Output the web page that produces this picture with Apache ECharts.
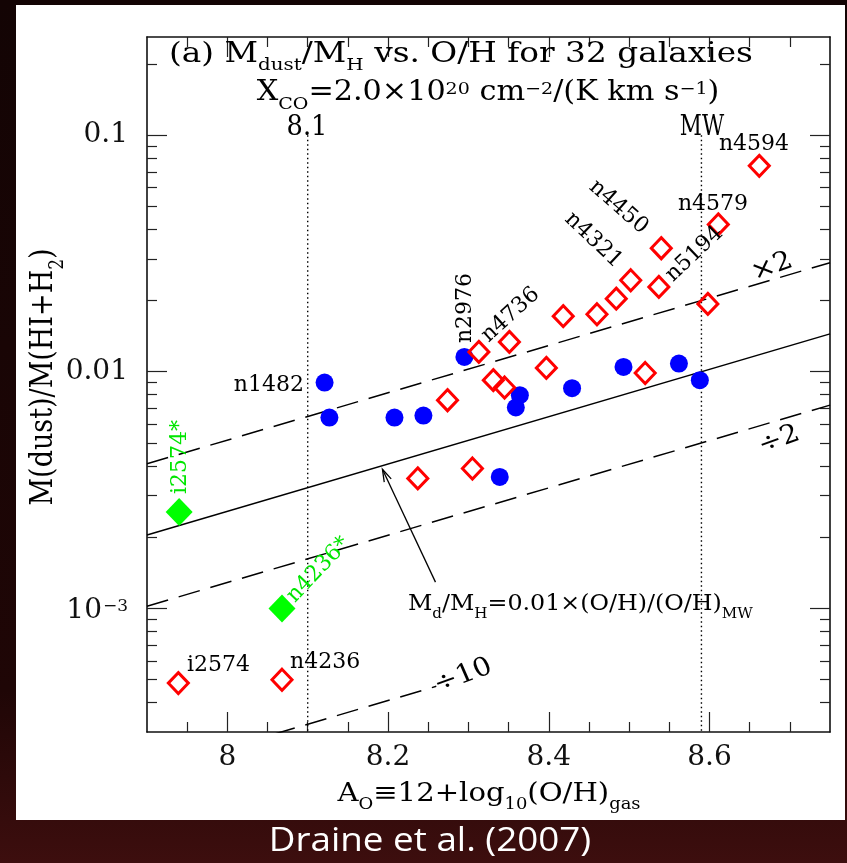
<!DOCTYPE html>
<html><head><meta charset="utf-8">
<script src="https://cdn.jsdelivr.net/npm/echarts@6/dist/echarts.min.js"></script>
<style>html,body{margin:0;padding:0;background:#1a0505;} #c{width:847px;height:863px;}</style>
</head><body><div id="c"></div>
<script>
// ---------------- data ----------------
// blue filled circles
const blueX = [8.121, 8.127, 8.208, 8.244, 8.295, 8.364, 8.359, 8.429, 8.493, 8.562, 8.588, 8.339];
const blueY = [0.00900, 0.00640, 0.00640, 0.00653, 0.01155, 0.00796, 0.00706, 0.00852, 0.01048, 0.01083, 0.00921, 0.00359];
// red open diamonds
const redX = [8.313, 8.351, 8.418, 8.460, 8.484, 8.502, 8.540, 8.537, 8.598, 8.662, 8.611, 8.274, 8.331, 8.345, 8.397, 8.520, 8.305, 8.237, 7.939, 8.068];
const redY = [0.01213, 0.01337, 0.01717, 0.01750, 0.02036, 0.02437, 0.03328, 0.02284, 0.01935, 0.0742, 0.04194, 0.00758, 0.00921, 0.00858, 0.01038, 0.00988, 0.00390, 0.00354, 0.000483, 0.000499];
// green filled diamonds (i2574*, n4236*)
const greenX = [7.940, 8.068];
const greenY = [0.002554, 0.000997];
// reference lines (end points)
const lineSolid  = [[7.90, 0.002042], [8.75, 0.014454]];
const lineTimes2 = [[7.90, 0.004083], [8.75, 0.028907]];
const lineDiv2   = [[7.90, 0.001021], [8.75, 0.007227]];
const lineDiv10  = [[7.90, 0.000204], [8.26, 0.000468]];
const dotted81   = [[8.10, 0.1], [8.10, 0.0003]];
const dottedMW   = [[8.59, 0.1], [8.59, 0.0003]];
const arrowFrom  = [8.259, 0.00129];
const arrowTo    = [8.193, 0.00387];
// axes
const X_MIN = 7.9, X_MAX = 8.75, Y_MIN = 0.0003, Y_MAX = 0.26;
const xTickVals = [8.0, 8.2, 8.4, 8.6];
const xTickLabels = ['8', '8.2', '8.4', '8.6'];
const xMinorVals = [7.95, 8.05, 8.1, 8.15, 8.25, 8.3, 8.35, 8.45, 8.5, 8.55, 8.65, 8.7];
const yTickVals = [0.001, 0.01, 0.1];
const yTickLabels = ['{m|10}{u|−3}', '0.01', '0.1'];
const yMinorVals = [0.0004, 0.0005, 0.0006, 0.0007, 0.0008, 0.0009,
  0.002, 0.003, 0.004, 0.005, 0.006, 0.007, 0.008, 0.009,
  0.02, 0.03, 0.04, 0.05, 0.06, 0.07, 0.08, 0.09, 0.2];

// ---------------- chart ----------------
const L = v => Math.log10(v);
const FAM = 'DejaVu Serif';
const SX = 1.0;
const chart = echarts.init(document.getElementById('c'), null, {renderer: 'canvas'});

const lineStyleAx = {color: '#111', width: 1.6};
const tickStyle = {color: '#222', width: 1.2};

function xFmt(v) {
  const i = xTickVals.findIndex(t => Math.abs(t - v) < 1e-6);
  return i >= 0 ? xTickLabels[i] : '';
}
function yFmt(v) {
  const i = yTickVals.findIndex(t => Math.abs(L(t) - v) < 1e-6);
  return i >= 0 ? yTickLabels[i] : '';
}
const labelFont = {fontFamily: FAM, fontSize: 28, color: '#111'};

function xAx(pos, ticks, len, withLabels, showLine) {
  return {
    type: 'value', min: X_MIN, max: X_MAX, position: pos,
    axisLine: {show: showLine, onZero: false, lineStyle: lineStyleAx},
    axisTick: {show: true, inside: true, length: len, customValues: ticks, lineStyle: tickStyle},
    axisLabel: withLabels ? Object.assign({show: true, customValues: xTickVals, formatter: xFmt, margin: 12}, labelFont) : {show: false},
    splitLine: {show: false}, minorTick: {show: false}
  };
}
function yAx(pos, ticks, len, withLabels, showLine) {
  return {
    type: 'value', min: L(Y_MIN), max: L(Y_MAX), position: pos,
    axisLine: {show: showLine, onZero: false, lineStyle: lineStyleAx},
    axisTick: {show: true, inside: true, length: len, customValues: ticks.map(L), lineStyle: tickStyle},
    axisLabel: withLabels ? Object.assign({
      show: true, customValues: yTickVals.map(L), formatter: yFmt, margin: 19,
      rich: {
        m: {fontFamily: FAM, fontSize: 28, lineHeight: 28, color: '#111', verticalAlign: 'top', padding: [2, 0, 0, 0]},
        u: {fontFamily: FAM, fontSize: 17, lineHeight: 17, color: '#111', verticalAlign: 'top', padding: [4, 0, 0, 1]}
      }
    }, labelFont) : {show: false},
    splitLine: {show: false}, minorTick: {show: false}
  };
}
const toXY = arr => arr.map(p => [p[0], L(p[1])]);
function refLine(pts, type, width) {
  return {type: 'line', data: toXY(pts), symbol: 'none', showSymbol: false, silent: true, z: 1,
    lineStyle: {color: '#000', width: width, type: type}, emphasis: {disabled: true}};
}

const option = {
  animation: false,
  backgroundColor: {type: 'linear', x: 0, y: 0, x2: 0, y2: 1, colorStops: [
    {offset: 0, color: '#130404'}, {offset: 0.8, color: '#1f0606'}, {offset: 1, color: '#3d0e0e'}]},
  grid: {left: 147, right: 17, top: 37, bottom: 131, containLabel: false, outerBoundsMode: 'none'},
  xAxis: [
    xAx('bottom', xTickVals, 20, true, true),
    xAx('bottom', xMinorVals, 10, false, false),
    xAx('top', xTickVals, 20, false, true),
    xAx('top', xMinorVals, 10, false, false)
  ],
  yAxis: [
    yAx('left', yTickVals, 20, true, true),
    yAx('left', yMinorVals, 10, false, false),
    yAx('right', yTickVals, 20, false, true),
    yAx('right', yMinorVals, 10, false, false)
  ],
  series: [
    refLine(lineSolid, 'solid', 1.5),
    refLine(lineTimes2, [22, 11], 1.5),
    refLine(lineDiv2, [22, 11], 1.5),
    refLine(lineDiv10, [22, 11], 1.5),
    refLine(dotted81, [1.5, 3], 1.4),
    refLine(dottedMW, [1.5, 3], 1.4),
    {type: 'scatter', name: 'blue', data: blueX.map((x, i) => [x, L(blueY[i])]), symbol: 'circle', symbolSize: 18,
      itemStyle: {color: '#0000ff', opacity: 1}, z: 5, silent: true},
    {type: 'scatter', name: 'red', data: redX.map((x, i) => [x, L(redY[i])]), symbol: 'diamond', symbolSize: [20, 21],
      itemStyle: {color: 'rgba(255,255,255,0)', borderColor: '#ff0000', borderWidth: 3, opacity: 1}, z: 6, silent: true},
    {type: 'scatter', name: 'green', data: greenX.map((x, i) => [x, L(greenY[i])]), symbol: 'diamond', symbolSize: [27, 28],
      itemStyle: {color: '#00ff00', opacity: 1}, z: 6, silent: true}
  ]
};
chart.setOption(option);

// ---------------- text annotations ----------------
function mkRich(F, color, fam) {
  const P = Math.round(F * 0.15), Fs = Math.round(F * 0.62);
  const b = {fontFamily: fam || FAM, fill: color, verticalAlign: 'top'};
  return {
    m: Object.assign({}, b, {fontSize: F, lineHeight: F, padding: [P, 0, 0, 0]}),
    s: Object.assign({}, b, {fontSize: Fs, lineHeight: Fs, padding: [Math.round(P + 0.62 * F), 0, 0, 0]}),
    u: Object.assign({}, b, {fontSize: Fs, lineHeight: Fs, padding: [Math.round(P + 0.06 * F), 0, 0, 0]})
  };
}
function T(text, gx, gy, F, o) {
  o = o || {};
  const P = Math.round(F * 0.15);
  const yOff = o.center ? -(P + 0.5 * F) : -(P + 0.846 * F);
  const phi = (o.rot || 0) * Math.PI / 180;
  const sx = o.sx || SX;
  const theta = Math.atan2(Math.sin(phi) * sx, Math.cos(phi));
  const color = o.color || '#000';
  return {type: 'group', x: gx, y: gy, scaleX: sx, children: [{
    type: 'text', z: 50, rotation: theta, silent: true,
    style: {text: text, rich: mkRich(F, color, o.family), x: 0, y: yOff, fill: color,
      fontFamily: o.family || FAM, fontSize: F,
      textAlign: o.align || 'center', textVerticalAlign: 'top'}
  }]};
}
const GREEN = '#00e600';
const texts = [
  T('{m|(a) M}{s|dust}{m|/M}{s|H}{m| vs. O/H for 32 galaxies}', 169, 64, 28, {align: 'left', sx: 1.17}),
  T('{m|X}{s|CO}{m|=2.0×10}{u|20}{m| cm}{u|−2}{m|/(K km s}{u|−1}{m|)}', 488, 102, 27, {sx: 1.12}),
  T('{m|8.1}', 307, 137, 27, {sx: 0.95}),
  T('{m|MW}', 702, 137, 27, {sx: 0.8}),
  T('{m|n4594}', 754, 152, 22),
  T('{m|n4579}', 713, 212, 22),
  T('{m|n1482}', 304, 393, 22, {align: 'right'}),
  T('{m|i2574}', 187, 673, 22, {align: 'left'}),
  T('{m|n4236}', 290, 670, 22, {align: 'left'}),
  T('{m|n4450}', 618.5, 207, 22, {center: true, rot: -41}),
  T('{m|n4321}', 593.5, 240, 22, {center: true, rot: -43.5}),
  T('{m|n5194}', 694.5, 254, 22, {center: true, rot: 43.4}),
  T('{m|n2976}', 465, 308, 22, {center: true, rot: 90}),
  T('{m|n4736}', 510.5, 315, 22, {center: true, rot: 42.3}),
  T('{m|i2574*}', 180, 457, 22, {center: true, rot: 90, color: GREEN}),
  T('{m|n4236*}', 318.5, 570, 22, {center: true, rot: 46.5, color: GREEN}),
  T('{m|×2}', 772, 267, 26, {center: true, rot: 20, sx: 1.1}),
  T('{m|÷2}', 779, 440, 26, {center: true, rot: 20, sx: 1.1}),
  T('{m|÷10}', 463, 676, 26, {center: true, rot: 20, sx: 1.1}),
  T('{m|M}{s|d}{m|/M}{s|H}{m|=0.01×(O/H)/(O/H)}{s|MW}', 408, 612, 22, {align: 'left', sx: 1.08}),
  T('{m|A}{s|O}{m|≡12+log}{s|10}{m|(O/H)}{s|gas}', 489, 803, 26, {sx: 1.12}),
  T('{m|M(dust)/M(HI+H}{s|2}{m|)}', 44, 377, 27, {center: true, rot: 90, sx: 1.16}),
  T('{m|Draine et al. (2007)}', 430, 853, 32, {family: 'Open Sans', color: '#ffffff', sx: 1.15})
];

// arrow (data coordinates -> pixels)
const p1 = chart.convertToPixel({xAxisIndex: 0, yAxisIndex: 0}, [arrowFrom[0], L(arrowFrom[1])]);
const p2 = chart.convertToPixel({xAxisIndex: 0, yAxisIndex: 0}, [arrowTo[0], L(arrowTo[1])]);
const dx = p2[0] - p1[0], dy = p2[1] - p1[1], len = Math.hypot(dx, dy);
const ux = dx / len, uy = dy / len, ha = 0.3, hl = 13;
const rv = a => [ux * Math.cos(a) - uy * Math.sin(a), ux * Math.sin(a) + uy * Math.cos(a)];
const r1 = rv(ha), r2 = rv(-ha);
const arrowEls = [
  {type: 'line', z: 40, silent: true, shape: {x1: p1[0], y1: p1[1], x2: p2[0], y2: p2[1]}, style: {stroke: '#000', lineWidth: 1.3}},
  {type: 'polyline', z: 40, silent: true, shape: {points: [[p2[0] - hl * r1[0], p2[1] - hl * r1[1]], [p2[0], p2[1]], [p2[0] - hl * r2[0], p2[1] - hl * r2[1]]]},
    style: {stroke: '#000', fill: null, lineWidth: 1.3}}
];
const panel = {type: 'rect', z: -100, silent: true, shape: {x: 16, y: 5, width: 829, height: 815}, style: {fill: '#ffffff'}};

chart.setOption({graphic: {elements: [panel].concat(arrowEls, texts)}});
</script>
</body></html>
